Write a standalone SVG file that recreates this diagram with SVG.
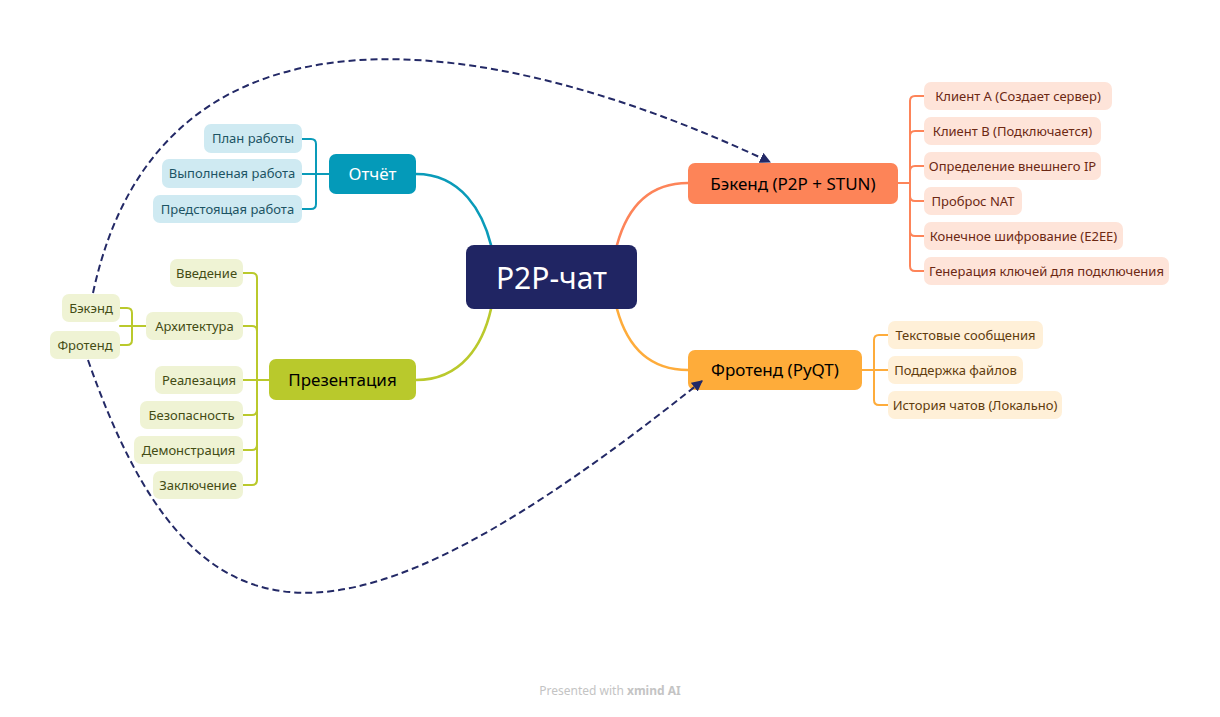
<svg xmlns="http://www.w3.org/2000/svg" width="1220" height="717" viewBox="0 0 1220 717">
<style>
text{font-family:"Noto Sans","Open Sans","DejaVu Sans",sans-serif;text-anchor:middle}
.sub{font-size:13px}
.main{font-size:17px}
.br{fill:none;stroke-width:2.6;stroke-linecap:round}
.el{fill:none;stroke-width:2;stroke-linecap:round;stroke-linejoin:round}
.teal{stroke:#0a9bb9}.lime{stroke:#bac92c}.coral{stroke:#fd8459}.orange{stroke:#feac3b}
.tl{fill:#cfeaf2}.tlt{fill:#1c5464}
.ll{fill:#eff3d4}.llt{fill:#434c14}
.cl{fill:#fee4d9}.clt{fill:#6c2813}
.ol{fill:#fff0d8}.olt{fill:#5f3c0d}
.rel{fill:none;stroke:#232966;stroke-width:2;stroke-dasharray:7 4}
</style>
<defs>
<marker id="arr" viewBox="0 0 10 10" refX="9" refY="5" markerWidth="5.5" markerHeight="5.5" orient="auto" markerUnits="strokeWidth">
<path d="M0,0 L10,5 L0,10 z" fill="#232966"/>
</marker>
</defs>
<rect width="1220" height="717" fill="#ffffff"/>

<g id="connectors">
<path class="br teal" d="M416,174 C462,174 483,213 491,245"/>
<path class="br lime" d="M416,380 C462,380 483,344 491,309"/>
<path class="br coral" d="M617,245 C626,212 645,183 688,183"/>
<path class="br orange" d="M617,309 C626,342 645,370 688,370"/>

<path class="el teal" d="M329,174 H302 M302,139 H311 Q316,139 316,144 V204 Q316,209 311,209 H302"/>

<path class="el lime" d="M269,380 H243 M243,273 H252 Q257,273 257,278 V480 Q257,485 252,485 H243 M243,326 H252 Q257,326 257,331 M243,415 H252 Q257,415 257,410 M243,450 H252 Q257,450 257,445"/>
<path class="el lime" d="M146,326 H120 M120,308 H127 Q132,308 132,313 V340 Q132,345 127,345 H120"/>

<path class="el coral" d="M898,183 H910 M924,96 H915 Q910,96 910,101 V266 Q910,271 915,271 H924 M924,131 H915 Q910,131 910,136 M924,166 H915 Q910,166 910,171 M924,201 H915 Q910,201 910,196 M924,236 H915 Q910,236 910,231"/>

<path class="el orange" d="M862,370 H888 M888,335 H879 Q874,335 874,340 V400 Q874,405 879,405 H888"/>
</g>

<g id="root">
<rect x="466" y="245" width="171" height="64" rx="8" fill="#202563"/>
<text x="551.5" y="288.5" font-size="30" fill="#ffffff">P2P-чат</text>
</g>

<g id="report">
<rect x="329" y="154" width="87" height="40" rx="7" fill="#049ab9"/>
<text class="main" x="372.5" y="180" fill="#ffffff">Отчёт</text>
</g>
<g id="plan"><rect class="tl" x="204" y="124" width="98" height="29" rx="7"/><text class="sub tlt" x="253" y="143">План работы</text></g>
<g id="done"><rect class="tl" x="162" y="159" width="140" height="29" rx="7"/><text class="sub tlt" x="232" y="178">Выполненая работа</text></g>
<g id="todo"><rect class="tl" x="153" y="195" width="149" height="28" rx="7"/><text class="sub tlt" x="227.5" y="213.5">Предстоящая работа</text></g>

<g id="presentation">
<rect x="269" y="359" width="147" height="41" rx="7" fill="#b9c92c"/>
<text class="main" x="342.5" y="385.5" fill="#000000">Презентация</text>
</g>
<g id="intro"><rect class="ll" x="170" y="259" width="73" height="28" rx="7"/><text class="sub llt" x="206.5" y="277.5">Введение</text></g>
<g id="arch"><rect class="ll" x="146" y="312" width="97" height="28" rx="7"/><text class="sub llt" x="194.5" y="330.5">Архитектура</text></g>
<g id="impl"><rect class="ll" x="155" y="366" width="88" height="28" rx="7"/><text class="sub llt" x="199" y="384.5">Реалезация</text></g>
<g id="security"><rect class="ll" x="140" y="401" width="103" height="28" rx="7"/><text class="sub llt" x="191.5" y="419.5">Безопасность</text></g>
<g id="demo"><rect class="ll" x="134" y="436" width="109" height="28" rx="7"/><text class="sub llt" x="188.5" y="454.5">Демонстрация</text></g>
<g id="conclusion"><rect class="ll" x="153" y="471" width="90" height="28" rx="7"/><text class="sub llt" x="198" y="489.5">Заключение</text></g>
<g id="arch-back"><rect class="ll" x="62" y="294" width="58" height="28" rx="7"/><text class="sub llt" x="91" y="312.5">Бэкэнд</text></g>
<g id="arch-front"><rect class="ll" x="50" y="331" width="70" height="28" rx="7"/><text class="sub llt" x="85" y="349.5">Фротенд</text></g>

<g id="backend">
<rect x="688" y="163" width="210" height="41" rx="7" fill="#fd8458"/>
<text class="main" x="793" y="189.5" fill="#000000">Бэкенд (P2P + STUN)</text>
</g>
<g id="b1"><rect class="cl" x="924" y="82" width="188" height="28" rx="7"/><text class="sub clt" x="1018" y="100.5">Клиент А (Создает сервер)</text></g>
<g id="b2"><rect class="cl" x="924" y="117" width="177" height="28" rx="7"/><text class="sub clt" x="1012.5" y="135.5">Клиент В (Подключается)</text></g>
<g id="b3"><rect class="cl" x="924" y="152" width="177" height="28" rx="7"/><text class="sub clt" x="1012.5" y="170.5">Определение внешнего IP</text></g>
<g id="b4"><rect class="cl" x="924" y="187" width="98" height="28" rx="7"/><text class="sub clt" x="973" y="205.5">Проброс NAT</text></g>
<g id="b5"><rect class="cl" x="924" y="222" width="199" height="28" rx="7"/><text class="sub clt" x="1023.5" y="240.5">Конечное шифрование (E2EE)</text></g>
<g id="b6"><rect class="cl" x="924" y="257" width="245" height="28" rx="7"/><text class="sub clt" x="1046.5" y="275.5">Генерация ключей для подключения</text></g>

<g id="frontend">
<rect x="688" y="350" width="174" height="40" rx="7" fill="#feac3a"/>
<text class="main" x="775" y="376" fill="#000000">Фротенд (PyQT)</text>
</g>
<g id="f1"><rect class="ol" x="888" y="321" width="155" height="28" rx="7"/><text class="sub olt" x="965.5" y="339.5">Текстовые сообщения</text></g>
<g id="f2"><rect class="ol" x="888" y="356" width="135" height="28" rx="7"/><text class="sub olt" x="955.5" y="374.5">Поддержка файлов</text></g>
<g id="f3"><rect class="ol" x="888" y="391" width="174" height="28" rx="7"/><text class="sub olt" x="975" y="409.5">История чатов (Локально)</text></g>

<g id="relationships">
<path class="rel" marker-end="url(#arr)" d="M93,293 C160,-20 490,30 770,162"/>
<path class="rel" marker-end="url(#arr)" d="M88,360 C193.6,662.4 339.5,671 702,381"/>
</g>

<g id="footer">
<text x="610" y="695" font-size="12" fill="#c4c4c4">Presented with <tspan font-weight="bold">xmind AI</tspan></text>
</g>
</svg>
